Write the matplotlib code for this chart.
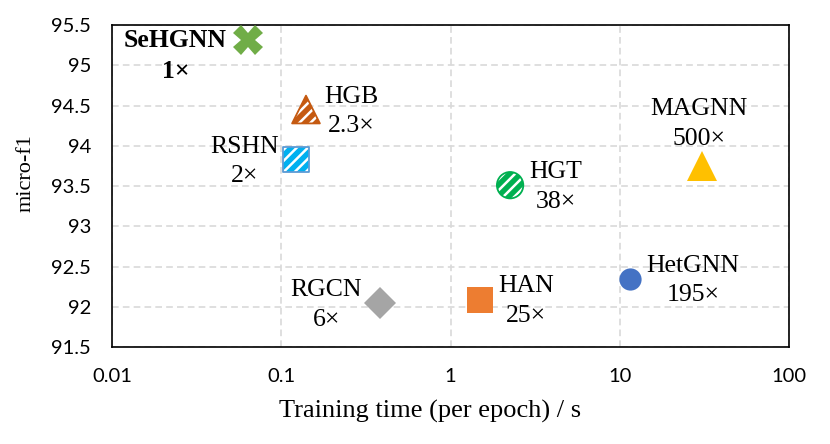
import matplotlib
matplotlib.use("Agg")
import matplotlib.pyplot as plt

# -----------------------------
# Data
# -----------------------------
models = ["SeHGNN", "HGB", "RSHN", "HGT", "MAGNN", "HetGNN", "HAN", "RGCN"]
train_time = [0.064, 0.14, 0.122, 2.25, 30.5, 11.5, 1.5, 0.385]
micro_f1 = [95.31, 94.45, 93.83, 93.51, 93.75, 92.34, 92.08, 92.05]
speed_labels = ["1×", "2.3×", "2×", "38×", "500×", "195×", "25×", "6×"]

x_ticks = [0.01, 0.1, 1, 10, 100]
x_tick_labels = ["0.01", "0.1", "1", "10", "100"]
y_ticks = [91.5, 92, 92.5, 93, 93.5, 94, 94.5, 95, 95.5]
y_tick_labels = ["91.5", "92", "92.5", "93", "93.5", "94", "94.5", "95", "95.5"]

# -----------------------------
# Styling per model
# -----------------------------
styles = {
    "SeHGNN": dict(marker="X", color="#70AD47", ms=21, hatch=None),
    "HGB":    dict(marker="^", color="#C55A11", ms=20, hatch="///"),
    "RSHN":   dict(marker="s", color="#00B0F0", ms=18.5, hatch="///", edge="#5B9BD5"),
    "HGT":    dict(marker="o", color="#00B050", ms=19, hatch="///"),
    "MAGNN":  dict(marker="^", color="#FFC000", ms=21, hatch=None),
    "HetGNN": dict(marker="o", color="#4472C4", ms=16, hatch=None),
    "HAN":    dict(marker="s", color="#ED7D31", ms=19, hatch=None),
    "RGCN":   dict(marker="D", color="#A5A5A5", ms=16.5, hatch=None),
}

# label offsets in pixels (text centre relative to marker)
label_offsets = {
    "SeHGNN": (-73, -16),
    "HGB": (45, -2),
    "RSHN": (-51, -2),
    "HGT": (46, -2),
    "MAGNN": (-3, 42),
    "HetGNN": (63, -1),
    "HAN": (46, -1),
    "RGCN": (-54, -2),
}

plt.rcParams["hatch.linewidth"] = 1.8
serif = ["Liberation Serif", "DejaVu Serif"]
sans = ["Lato", "DejaVu Sans"]

fig = plt.figure(figsize=(8.3, 4.44), dpi=100)
ax = fig.add_axes([112 / 830, 1 - 347 / 444, (789 - 112) / 830, (347 - 25) / 444])

for name, t, f, lab in zip(models, train_time, micro_f1, speed_labels):
    st = styles[name]
    if st["hatch"]:
        ax.scatter([t], [f], s=st["ms"] ** 2, marker=st["marker"],
                   facecolor=st["color"], edgecolor="white", hatch=st["hatch"],
                   linewidth=0, zorder=3)
        ax.scatter([t], [f], s=st["ms"] ** 2, marker=st["marker"],
                   facecolor="none", edgecolor=st.get("edge", st["color"]),
                   linewidth=1.3, zorder=4)
    else:
        ax.plot([t], [f], linestyle="none", marker=st["marker"], ms=st["ms"],
                color=st["color"], markeredgewidth=0, zorder=3)

    dx, dy = label_offsets[name]
    ax.annotate(f"{name}\n{lab}", xy=(t, f), xytext=(dx, dy),
                textcoords="offset pixels", ha="center", va="center",
                multialignment="center", family=serif, fontsize=18.5,
                fontweight="bold" if name == "SeHGNN" else "normal",
                linespacing=1.45, zorder=5)

ax.set_xscale("log")
ax.set_xlim(0.01, 100)
ax.set_ylim(91.5, 95.5)
ax.set_xticks(x_ticks)
ax.set_xticklabels(x_tick_labels)
ax.xaxis.set_minor_locator(matplotlib.ticker.NullLocator())
ax.set_yticks(y_ticks)
ax.set_yticklabels(y_tick_labels)

ax.tick_params(axis="both", length=0, labelsize=14.5)
ax.tick_params(axis="x", pad=15)
ax.tick_params(axis="y", pad=15)
for lbl in ax.get_xticklabels() + ax.get_yticklabels():
    lbl.set_family(sans)

ax.grid(True, color="#D9D9D9", linestyle=(0, (4, 2.5)), linewidth=1.2)
ax.set_axisbelow(True)
for sp in ax.spines.values():
    sp.set_color("black")
    sp.set_linewidth(1.2)

ax.set_xlabel("Training time (per epoch) / s", family=serif, fontsize=19)
ax.set_ylabel("micro-f1", family=serif, fontsize=16)
ax.xaxis.set_label_coords((430.5 - 112) / (789 - 112), -(400 - 347) / (347 - 25))
ax.yaxis.set_label_coords(-(112 - 36) / (789 - 112), (347 - 173) / (347 - 25))

fig.savefig("out.png", dpi=100)
